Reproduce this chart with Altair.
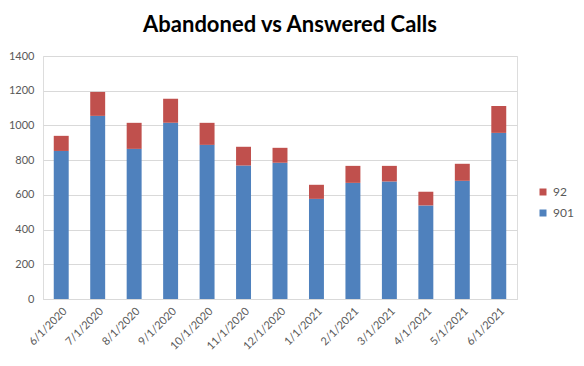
import altair as alt
import pandas as pd

months = ["6/1/2020", "7/1/2020", "8/1/2020", "9/1/2020", "10/1/2020", "11/1/2020",
          "12/1/2020", "1/1/2021", "2/1/2021", "3/1/2021", "4/1/2021", "5/1/2021", "6/1/2021"]
s901 = [853, 1055, 865, 1015, 888, 769, 785, 577, 669, 677, 539, 681, 957]
s92 = [87, 138, 150, 138, 127, 108, 86, 81, 98, 90, 79, 98, 155]
series = ["92", "901"]
colors = ["#C0504D", "#4F81BD"]
y_ticks = [0, 200, 400, 600, 800, 1000, 1200, 1400]

rows = []
for m, a, b in zip(months, s901, s92):
    rows.append({"month": m, "series": "901", "value": a, "ord": 0})
    rows.append({"month": m, "series": "92", "value": b, "ord": 1})
df = pd.DataFrame(rows)

font = "Lato"

chart = alt.Chart(df).mark_bar().encode(
    x=alt.X("month:N", sort=months,
            scale=alt.Scale(paddingInner=0.59, paddingOuter=0.295),
            axis=alt.Axis(title=None, labelAngle=-45, labelColor="#595959",
                          labelFontSize=11, labelFont=font, ticks=False,
                          domainColor="#d9d9d9", labelPadding=6, grid=False,
                          labelOverlap=False)),
    y=alt.Y("value:Q", stack="zero",
            scale=alt.Scale(domain=[0, 1400], nice=False),
            axis=alt.Axis(title=None, values=y_ticks, format="d",
                          labelColor="#595959",
                          labelFontSize=11, labelFont=font, ticks=False,
                          domain=False, gridColor="#d9d9d9", labelPadding=9)),
    color=alt.Color("series:N",
                    scale=alt.Scale(domain=series, range=colors),
                    legend=alt.Legend(title=None, orient="none", legendX=494,
                                      legendY=130, symbolType="square",
                                      symbolSize=49, symbolStrokeWidth=0,
                                      labelFontSize=12, labelFont=font,
                                      labelColor="#595959", rowPadding=9,
                                      labelOffset=4, padding=0)),
    order=alt.Order("ord:Q"),
).properties(
    width=474, height=243,
    title=alt.TitleParams("Abandoned vs Answered Calls", fontSize=22,
                          fontWeight="bold", font=font, color="#000000",
                          anchor="middle", dx=10, offset=13),
    autosize=alt.AutoSizeParams(type="none"),
    padding={"left": 35, "top": 48, "right": 58, "bottom": 55},
).configure_view(stroke=None).configure(background="white")

chart.save("out.html", embed_options={"renderer": "svg", "actions": False})
